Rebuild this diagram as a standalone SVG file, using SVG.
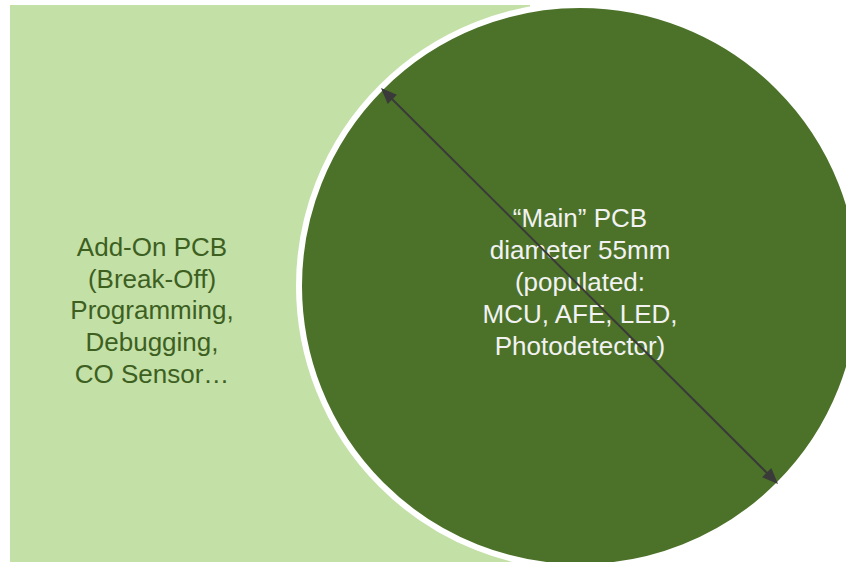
<svg xmlns="http://www.w3.org/2000/svg" width="846" height="562" viewBox="0 0 846 562">
<style>
.lbl{font-family:"Liberation Sans",Arial,sans-serif;font-size:26px;text-anchor:middle}
.dark{fill:#3D5F1F}
.light{fill:#F2F2F2}
.head{fill:#3A3A3A}
</style>
<rect width="846" height="562" fill="#FFFFFF"/>
<g id="addon">
<rect x="10" y="5" width="520" height="557" fill="#C3E0A7"/>
<text class="lbl dark"><tspan x="152" y="256">Add-On PCB</tspan><tspan x="152" y="288">(Break-Off)</tspan><tspan x="152" y="319">Programming,</tspan><tspan x="152" y="351">Debugging,</tspan><tspan x="152" y="383">CO Sensor…</tspan></text>
</g>
<g id="main">
<circle cx="580" cy="286" r="281" fill="#4C7229" stroke="#FFFFFF" stroke-width="6"/>
<text class="lbl light"><tspan x="580" y="227">“Main” PCB</tspan><tspan x="580" y="259">diameter 55mm</tspan><tspan x="580" y="291">(populated:</tspan><tspan x="580" y="323">MCU, AFE, LED,</tspan><tspan x="580" y="355">Photodetector)</tspan></text>
</g>
<g id="connectors">
<line x1="391" y1="98" x2="768" y2="474" stroke="#3A3A3A" stroke-width="2"/>
<polygon class="head" points="381,88 387.7,103.9 396.9,94.7"/>
<polygon class="head" points="778,484 762.1,477.3 771.3,468.1"/>
</g>
</svg>
